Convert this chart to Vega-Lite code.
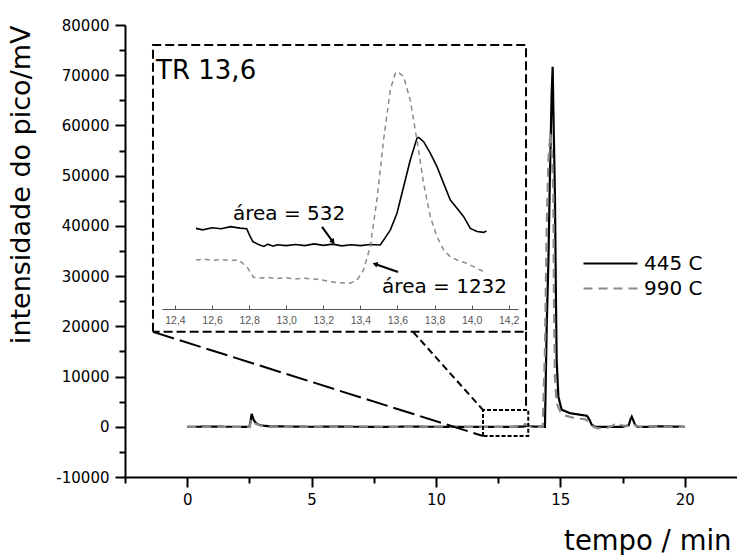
{
  "$schema": "https://vega.github.io/schema/vega-lite/v6.json",
  "width": 612,
  "height": 452,
  "autosize": {"type": "none"},
  "padding": {"left": 125, "top": 25, "right": 0, "bottom": 78},
  "config": {
    "view": {"stroke": null},
    "font": "DejaVu Sans",
    "axis": {"labelFont": "DejaVu Sans", "titleFont": "DejaVu Sans"},
    "legend": {"labelFont": "DejaVu Sans"},
    "text": {"font": "DejaVu Sans"}
  },
  "datasets": {
    "main": [
      {"series": "445 C", "t": 0, "v": 0}, {"series": "445 C", "t": 1, "v": 20}, {"series": "445 C", "t": 2, "v": 0},
      {"series": "445 C", "t": 2.5, "v": 0}, {"series": "445 C", "t": 2.55, "v": 1200}, {"series": "445 C", "t": 2.59, "v": 2550},
      {"series": "445 C", "t": 2.63, "v": 2000}, {"series": "445 C", "t": 2.68, "v": 1300}, {"series": "445 C", "t": 2.75, "v": 800},
      {"series": "445 C", "t": 2.85, "v": 450}, {"series": "445 C", "t": 3.0, "v": 250}, {"series": "445 C", "t": 3.3, "v": 100},
      {"series": "445 C", "t": 4, "v": 50}, {"series": "445 C", "t": 5, "v": 0}, {"series": "445 C", "t": 6, "v": 30},
      {"series": "445 C", "t": 7, "v": 0}, {"series": "445 C", "t": 8, "v": 0}, {"series": "445 C", "t": 9, "v": 20},
      {"series": "445 C", "t": 10, "v": 0}, {"series": "445 C", "t": 11, "v": 0}, {"series": "445 C", "t": 12, "v": 0},
      {"series": "445 C", "t": 13, "v": 0}, {"series": "445 C", "t": 13.5, "v": 50}, {"series": "445 C", "t": 13.7, "v": 200},
      {"series": "445 C", "t": 13.9, "v": 50}, {"series": "445 C", "t": 14.3, "v": 0}, {"series": "445 C", "t": 14.38, "v": 0},
      {"series": "445 C", "t": 14.45, "v": 19900}, {"series": "445 C", "t": 14.52, "v": 33200}, {"series": "445 C", "t": 14.58, "v": 49800},
      {"series": "445 C", "t": 14.65, "v": 66400}, {"series": "445 C", "t": 14.69, "v": 71700}, {"series": "445 C", "t": 14.73, "v": 60000},
      {"series": "445 C", "t": 14.78, "v": 46500}, {"series": "445 C", "t": 14.82, "v": 26600}, {"series": "445 C", "t": 14.85, "v": 13300},
      {"series": "445 C", "t": 14.92, "v": 6000}, {"series": "445 C", "t": 15.05, "v": 3400}, {"series": "445 C", "t": 15.39, "v": 2700},
      {"series": "445 C", "t": 15.92, "v": 2300}, {"series": "445 C", "t": 16.06, "v": 2200}, {"series": "445 C", "t": 16.15, "v": 1600},
      {"series": "445 C", "t": 16.26, "v": 400}, {"series": "445 C", "t": 16.39, "v": 0}, {"series": "445 C", "t": 17, "v": 0},
      {"series": "445 C", "t": 17.5, "v": 0}, {"series": "445 C", "t": 17.75, "v": 300}, {"series": "445 C", "t": 17.82, "v": 1500},
      {"series": "445 C", "t": 17.87, "v": 2000}, {"series": "445 C", "t": 17.93, "v": 1300}, {"series": "445 C", "t": 18.0, "v": 400},
      {"series": "445 C", "t": 18.1, "v": 0}, {"series": "445 C", "t": 18.5, "v": 0}, {"series": "445 C", "t": 19, "v": 100},
      {"series": "445 C", "t": 19.5, "v": 50}, {"series": "445 C", "t": 20, "v": 0},
      {"series": "990 C", "t": 0, "v": 0}, {"series": "990 C", "t": 1, "v": -50}, {"series": "990 C", "t": 2, "v": 0},
      {"series": "990 C", "t": 2.5, "v": 0}, {"series": "990 C", "t": 2.55, "v": 800}, {"series": "990 C", "t": 2.59, "v": 1500},
      {"series": "990 C", "t": 2.65, "v": 1200}, {"series": "990 C", "t": 2.75, "v": 600}, {"series": "990 C", "t": 2.9, "v": 300},
      {"series": "990 C", "t": 3.2, "v": 100}, {"series": "990 C", "t": 4, "v": 0}, {"series": "990 C", "t": 5, "v": 50},
      {"series": "990 C", "t": 6, "v": 0}, {"series": "990 C", "t": 7, "v": 50}, {"series": "990 C", "t": 8, "v": 0},
      {"series": "990 C", "t": 9, "v": 0}, {"series": "990 C", "t": 10, "v": 50}, {"series": "990 C", "t": 11, "v": 0},
      {"series": "990 C", "t": 12, "v": 0}, {"series": "990 C", "t": 13, "v": 0}, {"series": "990 C", "t": 13.45, "v": 100},
      {"series": "990 C", "t": 13.58, "v": 560}, {"series": "990 C", "t": 13.7, "v": 200}, {"series": "990 C", "t": 13.9, "v": 0},
      {"series": "990 C", "t": 14.29, "v": 0}, {"series": "990 C", "t": 14.38, "v": 15000}, {"series": "990 C", "t": 14.45, "v": 39800},
      {"series": "990 C", "t": 14.52, "v": 53100}, {"series": "990 C", "t": 14.6, "v": 58500}, {"series": "990 C", "t": 14.66, "v": 54000},
      {"series": "990 C", "t": 14.72, "v": 46500}, {"series": "990 C", "t": 14.74, "v": 26600}, {"series": "990 C", "t": 14.78, "v": 10000},
      {"series": "990 C", "t": 14.85, "v": 4700}, {"series": "990 C", "t": 15.0, "v": 3000}, {"series": "990 C", "t": 15.12, "v": 2300},
      {"series": "990 C", "t": 15.52, "v": 1800}, {"series": "990 C", "t": 16.0, "v": 1500}, {"series": "990 C", "t": 16.1, "v": 1200},
      {"series": "990 C", "t": 16.33, "v": 0}, {"series": "990 C", "t": 16.5, "v": -300}, {"series": "990 C", "t": 16.9, "v": -200},
      {"series": "990 C", "t": 17.1, "v": 200}, {"series": "990 C", "t": 17.26, "v": 800}, {"series": "990 C", "t": 17.45, "v": 300},
      {"series": "990 C", "t": 17.65, "v": 200}, {"series": "990 C", "t": 17.85, "v": 600}, {"series": "990 C", "t": 18.0, "v": 300},
      {"series": "990 C", "t": 18.2, "v": 0}, {"series": "990 C", "t": 19, "v": 100}, {"series": "990 C", "t": 19.5, "v": 0},
      {"series": "990 C", "t": 20, "v": 0}
    ],
    "inset": [
      {"series": "445 C", "t": 12.513, "v": 361}, {"series": "445 C", "t": 12.55, "v": 356}, {"series": "445 C", "t": 12.6, "v": 363},
      {"series": "445 C", "t": 12.65, "v": 360}, {"series": "445 C", "t": 12.7, "v": 367}, {"series": "445 C", "t": 12.75, "v": 362},
      {"series": "445 C", "t": 12.787, "v": 360}, {"series": "445 C", "t": 12.8, "v": 340}, {"series": "445 C", "t": 12.82, "v": 315},
      {"series": "445 C", "t": 12.85, "v": 305}, {"series": "445 C", "t": 12.88, "v": 298}, {"series": "445 C", "t": 12.9, "v": 306},
      {"series": "445 C", "t": 12.93, "v": 299}, {"series": "445 C", "t": 12.95, "v": 304}, {"series": "445 C", "t": 13.0, "v": 301},
      {"series": "445 C", "t": 13.05, "v": 305}, {"series": "445 C", "t": 13.1, "v": 301}, {"series": "445 C", "t": 13.15, "v": 307},
      {"series": "445 C", "t": 13.2, "v": 302}, {"series": "445 C", "t": 13.25, "v": 306}, {"series": "445 C", "t": 13.3, "v": 300},
      {"series": "445 C", "t": 13.35, "v": 304}, {"series": "445 C", "t": 13.4, "v": 301}, {"series": "445 C", "t": 13.45, "v": 305},
      {"series": "445 C", "t": 13.507, "v": 303}, {"series": "445 C", "t": 13.525, "v": 320}, {"series": "445 C", "t": 13.561, "v": 355},
      {"series": "445 C", "t": 13.597, "v": 413}, {"series": "445 C", "t": 13.633, "v": 506}, {"series": "445 C", "t": 13.669, "v": 599},
      {"series": "445 C", "t": 13.705, "v": 675}, {"series": "445 C", "t": 13.714, "v": 678}, {"series": "445 C", "t": 13.741, "v": 663},
      {"series": "445 C", "t": 13.777, "v": 623}, {"series": "445 C", "t": 13.813, "v": 576}, {"series": "445 C", "t": 13.849, "v": 518},
      {"series": "445 C", "t": 13.885, "v": 460}, {"series": "445 C", "t": 13.921, "v": 431}, {"series": "445 C", "t": 13.957, "v": 402},
      {"series": "445 C", "t": 13.993, "v": 361}, {"series": "445 C", "t": 14.029, "v": 350}, {"series": "445 C", "t": 14.065, "v": 347},
      {"series": "445 C", "t": 14.08, "v": 352},
      {"series": "990 C", "t": 12.513, "v": 251}, {"series": "990 C", "t": 12.56, "v": 254}, {"series": "990 C", "t": 12.6, "v": 250},
      {"series": "990 C", "t": 12.65, "v": 252}, {"series": "990 C", "t": 12.7, "v": 249}, {"series": "990 C", "t": 12.742, "v": 251},
      {"series": "990 C", "t": 12.787, "v": 228}, {"series": "990 C", "t": 12.823, "v": 191}, {"series": "990 C", "t": 12.86, "v": 188},
      {"series": "990 C", "t": 12.9, "v": 190}, {"series": "990 C", "t": 12.95, "v": 186}, {"series": "990 C", "t": 13.0, "v": 189},
      {"series": "990 C", "t": 13.05, "v": 185}, {"series": "990 C", "t": 13.1, "v": 187}, {"series": "990 C", "t": 13.165, "v": 184},
      {"series": "990 C", "t": 13.22, "v": 178}, {"series": "990 C", "t": 13.27, "v": 172}, {"series": "990 C", "t": 13.345, "v": 170},
      {"series": "990 C", "t": 13.381, "v": 181}, {"series": "990 C", "t": 13.417, "v": 216}, {"series": "990 C", "t": 13.453, "v": 297},
      {"series": "990 C", "t": 13.489, "v": 460}, {"series": "990 C", "t": 13.525, "v": 669}, {"series": "990 C", "t": 13.561, "v": 843},
      {"series": "990 C", "t": 13.588, "v": 901}, {"series": "990 C", "t": 13.601, "v": 907}, {"series": "990 C", "t": 13.633, "v": 890},
      {"series": "990 C", "t": 13.669, "v": 808}, {"series": "990 C", "t": 13.705, "v": 669}, {"series": "990 C", "t": 13.741, "v": 518},
      {"series": "990 C", "t": 13.777, "v": 402}, {"series": "990 C", "t": 13.813, "v": 332}, {"series": "990 C", "t": 13.849, "v": 286},
      {"series": "990 C", "t": 13.885, "v": 262}, {"series": "990 C", "t": 13.921, "v": 251}, {"series": "990 C", "t": 13.975, "v": 239},
      {"series": "990 C", "t": 14.047, "v": 216}, {"series": "990 C", "t": 14.065, "v": 210}
    ],
    "guides": [
      {"part": "bigbox", "i": 0, "t": -1.375, "v": 18900}, {"part": "bigbox", "i": 1, "t": -1.375, "v": 76000},
      {"part": "bigbox", "i": 2, "t": 13.62, "v": 76000}, {"part": "bigbox", "i": 3, "t": 13.62, "v": 18900},
      {"part": "bigbox", "i": 4, "t": -1.375, "v": 18900},
      {"part": "drop", "i": 0, "t": 13.62, "v": 18900}, {"part": "drop", "i": 1, "t": 13.62, "v": 3345},
      {"part": "conn1", "i": 0, "t": -1.375, "v": 18900}, {"part": "conn1", "i": 1, "t": 11.89, "v": -1832},
      {"part": "conn2", "i": 0, "t": 9.08, "v": 18900}, {"part": "conn2", "i": 1, "t": 11.89, "v": 3345},
      {"part": "smallbox", "i": 0, "t": 11.89, "v": -1832}, {"part": "smallbox", "i": 1, "t": 11.89, "v": 3345},
      {"part": "smallbox", "i": 2, "t": 13.71, "v": 3345}, {"part": "smallbox", "i": 3, "t": 13.71, "v": -1832},
      {"part": "smallbox", "i": 4, "t": 11.89, "v": -1832}
    ],
    "notes": [
      {"kind": "title", "label": "TR 13,6", "t": 12.298, "v": 881},
      {"kind": "area", "label": "área = 532", "t": 12.713, "v": 390},
      {"kind": "area", "label": "área = 1232", "t": 13.517, "v": 136}
    ],
    "arrows": [
      {"a": 1, "i": 0, "t": 13.193, "v": 366}, {"a": 1, "i": 1, "t": 13.252, "v": 314},
      {"a": 2, "i": 0, "t": 13.603, "v": 209}, {"a": 2, "i": 1, "t": 13.479, "v": 237}
    ]
  },
  "layer": [
    {
      "layer": [
        {
          "data": {"name": "main"},
          "mark": {"type": "line", "strokeWidth": 2.2},
          "encoding": {
            "x": {
              "field": "t", "type": "quantitative",
              "scale": {"domain": [-2.5, 22.1], "nice": false, "zero": false},
              "axis": {
                "orient": "bottom", "values": [0, 5, 10, 15, 20], "format": "d",
                "tickSize": 10, "tickWidth": 2, "tickColor": "black",
                "domainWidth": 2, "domainColor": "black",
                "labelColor": "black", "labelFontSize": 15, "labelPadding": 5, "grid": false,
                "title": "tempo / min", "titleFontSize": 27.5, "titleFontWeight": "normal",
                "titleColor": "black", "titleAnchor": "end", "titleAlign": "right", "titleX": 606, "titlePadding": 20
              }
            },
            "y": {
              "field": "v", "type": "quantitative",
              "scale": {"domain": [-10000, 80000], "nice": false, "zero": false},
              "axis": {
                "orient": "left", "values": [-10000, 0, 10000, 20000, 30000, 40000, 50000, 60000, 70000, 80000],
                "format": "d", "labelExpr": "replace(datum.label, '\u2212', '-')",
                "tickSize": 10, "tickWidth": 2, "tickColor": "black",
                "domainWidth": 2, "domainColor": "black",
                "labelColor": "black", "labelFontSize": 15, "labelPadding": 6, "grid": false,
                "title": "intensidade do pico/mV", "titleFontSize": 27, "titleFontWeight": "normal",
                "titleColor": "black", "titleAnchor": "end", "titlePadding": 20
              }
            },
            "color": {
              "field": "series", "type": "nominal",
              "scale": {"domain": ["445 C", "990 C"], "range": ["#000000", "#8a8a8a"]},
              "legend": {
                "orient": "none", "legendX": 471, "legendY": 224, "title": null,
                "symbolType": "M-2,0H2", "symbolSize": 729, "symbolStrokeWidth": 2,
                "labelFontSize": 20, "labelColor": "black", "labelOffset": 19,
                "rowPadding": 0, "padding": 0
              }
            },
            "strokeDash": {
              "field": "series", "type": "nominal",
              "scale": {"domain": ["445 C", "990 C"], "range": [[1, 0], [9, 6]]}
            }
          }
        },
        {
          "data": {"name": "guides"},
          "transform": [{"filter": "datum.part === 'bigbox' || datum.part === 'drop'"}],
          "mark": {"type": "line", "color": "black", "strokeWidth": 2, "strokeDash": [9, 4]},
          "encoding": {
            "x": {"field": "t", "type": "quantitative", "scale": {"domain": [-2.5, 22.1], "nice": false, "zero": false}, "axis": null},
            "y": {"field": "v", "type": "quantitative", "scale": {"domain": [-10000, 80000], "nice": false, "zero": false}, "axis": null},
            "detail": {"field": "part"}, "order": {"field": "i"}
          }
        },
        {
          "data": {"name": "guides"},
          "transform": [{"filter": "datum.part === 'conn1'"}],
          "mark": {"type": "line", "color": "black", "strokeWidth": 2, "strokeDash": [22, 6]},
          "encoding": {
            "x": {"field": "t", "type": "quantitative", "scale": {"domain": [-2.5, 22.1], "nice": false, "zero": false}, "axis": null},
            "y": {"field": "v", "type": "quantitative", "scale": {"domain": [-10000, 80000], "nice": false, "zero": false}, "axis": null},
            "order": {"field": "i"}
          }
        },
        {
          "data": {"name": "guides"},
          "transform": [{"filter": "datum.part === 'conn2'"}],
          "mark": {"type": "line", "color": "black", "strokeWidth": 2, "strokeDash": [7, 4]},
          "encoding": {
            "x": {"field": "t", "type": "quantitative", "scale": {"domain": [-2.5, 22.1], "nice": false, "zero": false}, "axis": null},
            "y": {"field": "v", "type": "quantitative", "scale": {"domain": [-10000, 80000], "nice": false, "zero": false}, "axis": null},
            "order": {"field": "i"}
          }
        },
        {
          "data": {"name": "guides"},
          "transform": [{"filter": "datum.part === 'smallbox'"}],
          "mark": {"type": "line", "color": "black", "strokeWidth": 2, "strokeDash": [4, 2]},
          "encoding": {
            "x": {
              "field": "t", "type": "quantitative",
              "scale": {"domain": [-2.5, 22.1], "nice": false, "zero": false},
              "axis": {
                "orient": "bottom", "values": [-2.5, 2.5, 7.5, 12.5, 17.5], "labels": false, "domain": false,
                "tickSize": 6, "tickWidth": 2, "tickColor": "black", "grid": false, "title": null
              }
            },
            "y": {
              "field": "v", "type": "quantitative",
              "scale": {"domain": [-10000, 80000], "nice": false, "zero": false},
              "axis": {
                "orient": "left", "values": [-5000, 5000, 15000, 25000, 35000, 45000, 55000, 65000, 75000],
                "labels": false, "domain": false,
                "tickSize": 6, "tickWidth": 2, "tickColor": "black", "grid": false, "title": null
              }
            },
            "order": {"field": "i"}
          }
        }
      ],
      "resolve": {"axis": {"x": "independent", "y": "independent"}}
    },
    {
      "layer": [
        {
          "data": {"name": "inset"},
          "transform": [{"filter": "datum.series === '445 C'"}],
          "mark": {"type": "line", "color": "black", "strokeWidth": 1.6},
          "encoding": {
            "x": {
              "field": "t", "type": "quantitative",
              "scale": {"domain": [12.33, 14.25], "range": [37, 393], "nice": false, "zero": false},
              "axis": {
                "orient": "bottom", "offset": -168,
                "values": [12.4, 12.5, 12.6, 12.7, 12.8, 12.9, 13.0, 13.1, 13.2, 13.3, 13.4, 13.5, 13.6, 13.7, 13.8, 13.9, 14.0, 14.1, 14.2],
                "labelExpr": "round(datum.value * 10) % 2 === 0 ? replace(format(datum.value, '.1f'), '.', ',') : ''",
                "tickSize": -4, "tickWidth": 1, "tickColor": "#555555",
                "domainWidth": 1, "domainColor": "#555555",
                "labelFont": "Liberation Sans", "labelFontSize": 10.5, "labelColor": "#555555",
                "labelPadding": 10, "grid": false, "title": null, "labelFlush": false
              }
            },
            "y": {
              "field": "v", "type": "quantitative",
              "scale": {"domain": [0, 1000], "range": [307, 20], "nice": false, "zero": false},
              "axis": null
            }
          }
        },
        {
          "data": {"name": "inset"},
          "transform": [{"filter": "datum.series === '990 C'"}],
          "mark": {"type": "line", "color": "#8a8a8a", "strokeWidth": 1.5, "strokeDash": [5, 4]},
          "encoding": {"x": {"field": "t", "type": "quantitative"}, "y": {"field": "v", "type": "quantitative"}}
        },
        {
          "data": {"name": "arrows"},
          "mark": {"type": "line", "color": "black", "strokeWidth": 2},
          "encoding": {"x": {"field": "t", "type": "quantitative"}, "y": {"field": "v", "type": "quantitative"}, "detail": {"field": "a"}, "order": {"field": "i"}}
        },
        {
          "data": {"name": "arrows"},
          "transform": [{"filter": "datum.a === 1 && datum.i === 1"}],
          "mark": {"type": "point", "shape": "triangle-up", "filled": true, "color": "black", "size": 35, "angle": 144, "opacity": 1},
          "encoding": {"x": {"field": "t", "type": "quantitative"}, "y": {"field": "v", "type": "quantitative"}}
        },
        {
          "data": {"name": "arrows"},
          "transform": [{"filter": "datum.a === 2 && datum.i === 1"}],
          "mark": {"type": "point", "shape": "triangle-up", "filled": true, "color": "black", "size": 35, "angle": 289, "opacity": 1},
          "encoding": {"x": {"field": "t", "type": "quantitative"}, "y": {"field": "v", "type": "quantitative"}}
        },
        {
          "data": {"name": "notes"},
          "transform": [{"filter": "datum.kind === 'title'"}],
          "mark": {"type": "text", "align": "left", "baseline": "alphabetic", "fontSize": 26, "color": "black"},
          "encoding": {"x": {"field": "t", "type": "quantitative"}, "y": {"field": "v", "type": "quantitative"}, "text": {"field": "label"}}
        },
        {
          "data": {"name": "notes"},
          "transform": [{"filter": "datum.kind === 'area'"}],
          "mark": {"type": "text", "align": "left", "baseline": "alphabetic", "fontSize": 20, "color": "black"},
          "encoding": {"x": {"field": "t", "type": "quantitative"}, "y": {"field": "v", "type": "quantitative"}, "text": {"field": "label"}}
        }
      ]
    }
  ],
  "resolve": {"scale": {"x": "independent", "y": "independent"}}
}
